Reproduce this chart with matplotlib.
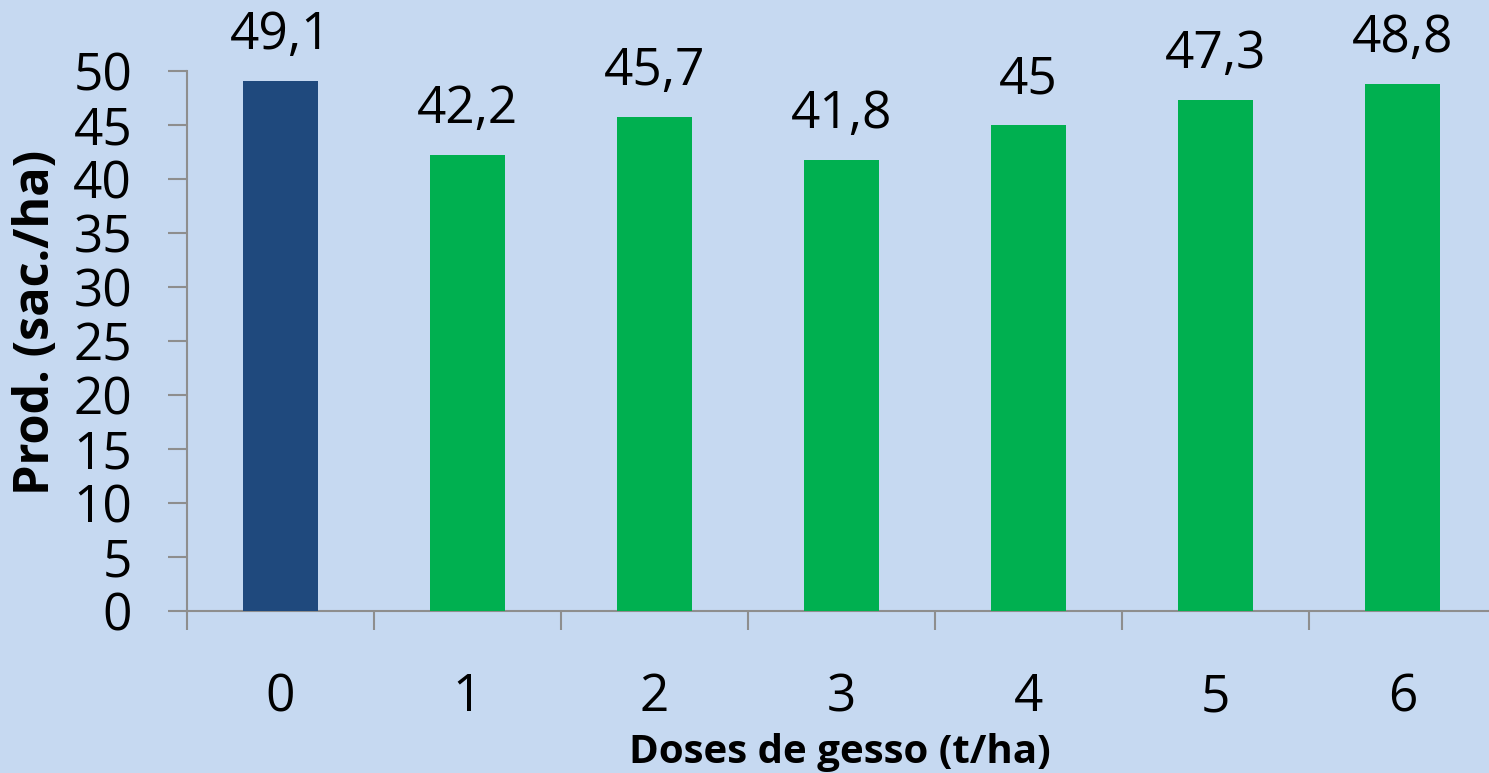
import matplotlib
matplotlib.use("Agg")
import matplotlib.pyplot as plt

categories = ["0", "1", "2", "3", "4", "5", "6"]
values = [49.1, 42.2, 45.7, 41.8, 45.0, 47.3, 48.8]
value_labels = ["49,1", "42,2", "45,7", "41,8", "45", "47,3", "48,8"]
bar_colors = ["#1F497D", "#00B050", "#00B050", "#00B050", "#00B050", "#00B050", "#00B050"]
y_ticks = [0, 5, 10, 15, 20, 25, 30, 35, 40, 45, 50]

plt.rcParams['font.family'] = ['Open Sans', 'DejaVu Sans']
bg = "#C6D9F1"
W, H = 1489, 773
fig = plt.figure(figsize=(W / 100, H / 100), dpi=100, facecolor=bg)
ax = fig.add_axes([187 / W, 1 - 611 / H, (1496 - 187) / W, (611 - 71) / H], facecolor=bg)

x = list(range(len(categories)))
bars = ax.bar(x, values, width=0.40, color=bar_colors, zorder=3)
for xi, v, lab in zip(x, values, value_labels):
    ax.annotate(lab, (xi, v), xytext=(0, 20), textcoords="offset pixels",
                ha="center", va="bottom", fontsize=37, color="black")

ax.set_xlim(-0.5, 6.5)
ax.set_ylim(0, 50)
ax.set_yticks(y_ticks)
ax.set_yticklabels([str(t) for t in y_ticks])
ax.set_xticks(x)
ax.set_xticklabels(categories)
ax.set_xticks([i - 0.5 for i in range(8)], minor=True)

spine_c = "#8E8E8E"
for s in ["top", "right"]:
    ax.spines[s].set_visible(False)
for s in ["left", "bottom"]:
    ax.spines[s].set_color(spine_c)
    ax.spines[s].set_linewidth(1.5)

ax.tick_params(axis="y", direction="out", length=13.5, width=1.5, color=spine_c,
               labelsize=37, pad=26)
ax.tick_params(axis="x", which="major", length=0, labelsize=37, pad=44)
ax.tick_params(axis="x", which="minor", direction="out", length=13.5, width=1.5, color=spine_c)

ax.set_xlabel("Doses de gesso (t/ha)", fontsize=29, fontweight="bold", labelpad=4)
ax.set_ylabel("Prod. (sac./ha)", fontsize=35, fontweight="bold", labelpad=4)
ax.yaxis.set_label_coords(-(187 - 37) / (1496 - 187), 0.5 + (341 - 322) / (611 - 71))
ax.xaxis.set_label_coords((840 - 187) / (1496 - 187), -(752 - 611) / (611 - 71))
ax.xaxis.label.set_va("center")
ax.yaxis.label.set_va("center")

fig.savefig("out.png", dpi=100, facecolor=bg)
